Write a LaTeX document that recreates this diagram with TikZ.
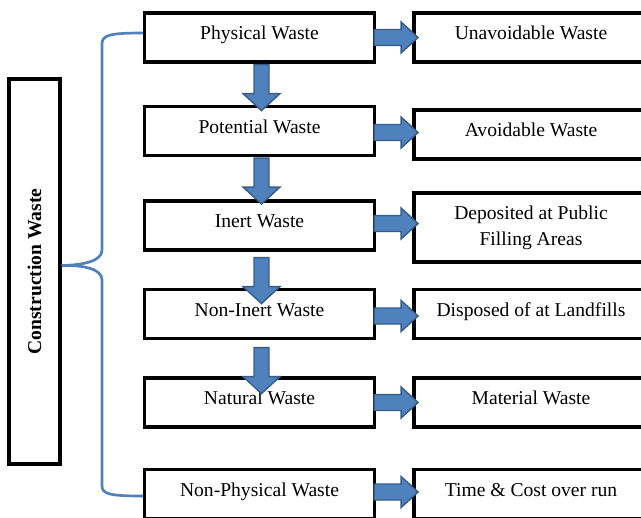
\documentclass[tikz,border=0pt]{standalone}
\usepackage{fontspec}
\setmainfont{Liberation Serif}
\usepackage{tikz}
\usetikzlibrary{calc,positioning}
\definecolor{arrblue}{HTML}{4F81BD}
\definecolor{arredge}{HTML}{385D8A}
\newcommand{\wastefont}{\fontsize{14.7}{19.5}\selectfont}

\begin{document}
\begin{tikzpicture}[x=0.75pt,y=0.75pt,yscale=-1,xscale=1,
    wbox/.style={draw, line width=2.3pt, minimum width=172.5pt, minimum height=36.75pt, inner sep=2pt, align=center, font=\wastefont, text height=10pt, text depth=6.8pt},
    rbox/.style={wbox, minimum width=175.5pt},
    blk/.style={fill=arrblue, draw=arredge, line width=1.1pt, line join=miter},
    brace/.style={draw=arrblue, line width=2pt},
    darr/.pic={\draw[blk] (-7.5,0) -- (-7.5,-29) -- (-18.5,-29) -- (0,-46) -- (18.5,-29) -- (7.5,-29) -- (7.5,0) -- cycle;},
    rarr/.pic={\draw[blk] (0,-8) -- (27,-8) -- (27,-15.5) -- (44,0) -- (27,15.5) -- (27,8) -- (0,8) -- cycle;}]
    \useasboundingbox (0,0) rectangle (641,517);

    %Shape: Rectangle (Construction Waste)
    \node[draw, line width=2.3pt, rotate=90, minimum width=288.75pt, minimum height=38.25pt, font=\wastefont\bfseries] (cw) at (34.5,271.5) {Construction Waste};

    %Shape: Rectangle (left column)
    \node[wbox] (phys) at (259.5,37.5) {Physical Waste};
    \node[wbox] (pot) at (259.5,131) {Potential Waste};
    \node[wbox] (inert) at (259.5,225.5) {Inert Waste};
    \node[wbox] (noninert) at (259.5,314) {Non-Inert Waste};
    \node[wbox] (natural) at (259.5,402.5) {Natural Waste};
    \node[wbox] (nonphys) at (259.5,494) {Non-Physical Waste};

    %Shape: Rectangle (right column)
    \node[rbox] (unav) at (531,37.5) {Unavoidable Waste};
    \node[rbox] (avoid) at (531,134.5) {Avoidable Waste};
    \node[rbox, minimum height=51.75pt, text height=, text depth=] (depos) at (531,227.5) {Deposited at Public\\Filling Areas};
    \node[rbox] (landf) at (531,314) {Disposed of at Landfills};
    \node[rbox] (mat) at (531,402.5) {Material Waste};
    \node[rbox] (timec) at (531,494) {Time \& Cost over run};

    %Block Arrows (down)
    \pic at ($(phys.south)+(2,1)$) {darr};
    \pic at ($(pot.south)+(2,1)$) {darr};
    \pic at ($(inert.south)+(2,6)$) {darr};
    \pic at ($(noninert.south)+(2,7.5)$) {darr};

    %Block Arrows (right)
    \pic at ($(phys.east)+(-2,0)$) {rarr};
    \pic at ($(pot.east)+(-2,1.5)$) {rarr};
    \pic at ($(inert.east)+(-2,-2)$) {rarr};
    \pic at ($(noninert.east)+(-2,2)$) {rarr};
    \pic at ($(natural.east)+(-2,0)$) {rarr};
    \pic at ($(nonphys.east)+(-2,-2)$) {rarr};

    %Brace
    \coordinate (tip) at ($(cw.south)+(0,-6)$);
    \draw[brace] ($(phys.west)+(0,-4.5)$) .. controls (110,33) and (102,35) .. (102,44) -- (102,250)
        .. controls (102,261) and (84,265) .. (tip)
        .. controls (84,265) and (102,269) .. (102,280) -- (102,486)
        .. controls (102,494) and (110,496) .. ($(nonphys.west)+(0,2)$);

\end{tikzpicture}
\end{document}
